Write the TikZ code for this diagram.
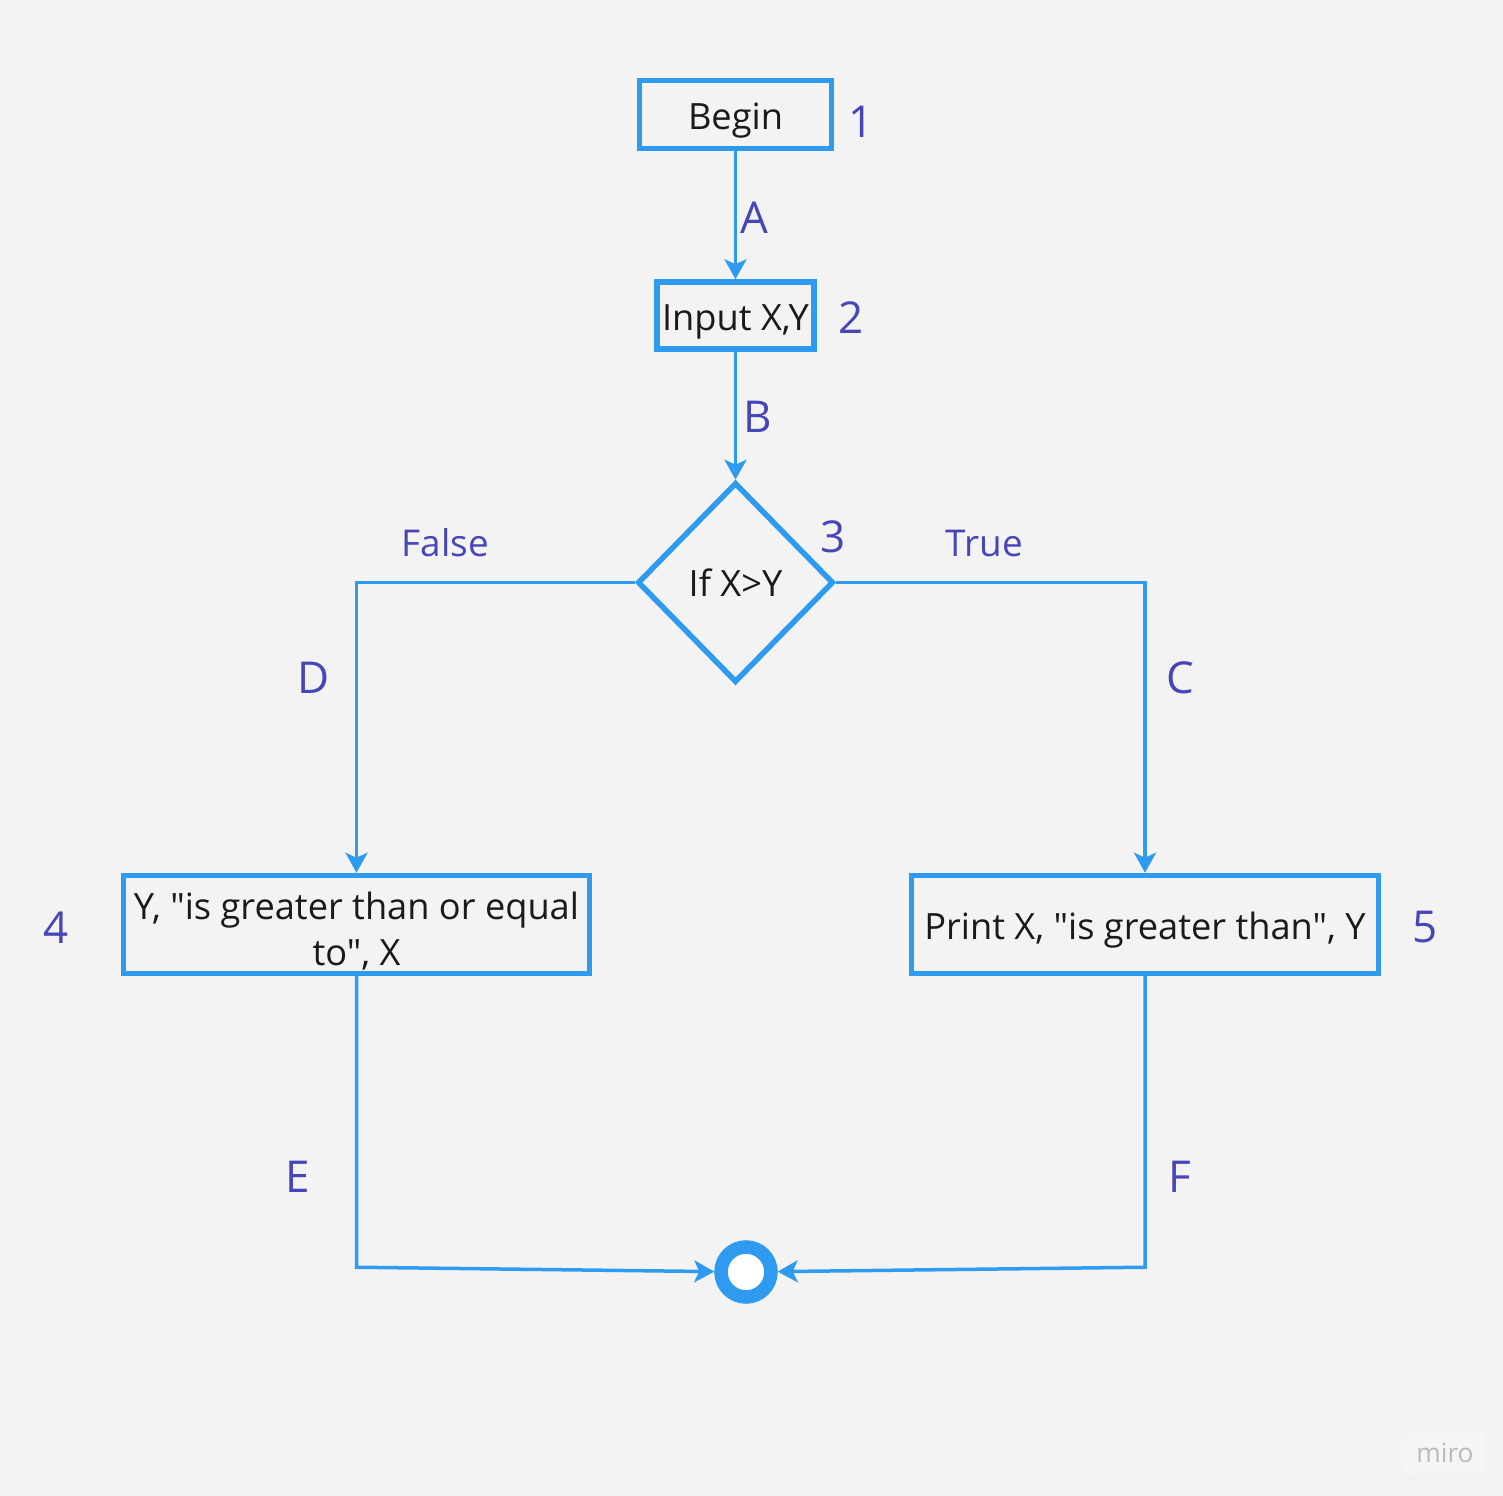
\documentclass[tikz,border=0pt]{standalone}
\usepackage{fontspec}
\setmainfont{Open Sans}[Ligatures=TeXOff]
\usetikzlibrary{arrows.meta,positioning,shapes.geometric}

\definecolor{flowblue}{RGB}{46,155,240}
\definecolor{labblue}{RGB}{70,70,185}
\definecolor{canvas}{RGB}{243,243,243}
\definecolor{ink}{RGB}{26,26,26}

\begin{document}
\begin{tikzpicture}[>={Stealth[length=0.2cm,width=0.22cm,inset=0.05cm]},
    box/.style={draw=flowblue,line width=0.055cm,text=ink,inner sep=0.05cm,
                align=center,text height=0.34cm,text depth=0.04cm,
                font=\fontsize{10.3}{13.1}\selectfont},
    decision/.style={diamond,draw=flowblue,line width=0.055cm,text=ink,inner sep=0,
                minimum width=1.96cm,minimum height=2cm,font=\fontsize{10.3}{13.1}\selectfont},
    link/.style={->,draw=flowblue,line width=0.035cm},
    lab/.style={text=labblue,inner sep=0,font=\fontsize{12.5}{15}\selectfont},
    branch/.style={text=labblue,inner sep=0,font=\fontsize{10.5}{13}\selectfont}]

  \fill[canvas] (0,0) rectangle (15.03,-14.96);
  \useasboundingbox (0,0) rectangle (15.03,-14.96);

  \node[box,minimum width=1.92cm,minimum height=0.68cm] (begin) at (7.355,-1.145) {Begin};
  \node[box,minimum width=1.55cm,minimum height=0.67cm,below=1.28cm of begin] (input) {Input X,Y};
  \node[decision,below=1.28cm of input] (cond) {If X>Y};
  \node[box,minimum width=4.66cm,minimum height=0.98cm,inner ysep=0.03cm,
        text height=0.85cm,text depth=0.02cm]
       (ybox) at (3.565,-9.245) {Y, "is greater than or equal\\to", X};
  \node[box,minimum width=4.67cm,minimum height=0.98cm] (pbox) at (11.45,-9.245)
       {Print X, "is greater than", Y};
  \node[circle,draw=flowblue,line width=0.135cm,fill=white,minimum size=0.5cm,
        inner sep=0] (stop) at (7.46,-12.72) {};

  % step numbers
  \node[lab,right=0.14cm of begin,yshift=-0.07cm] (n1) {1};
  \node[lab,right=0.21cm of input,yshift=-0.02cm] (n2) {2};
  \node[lab,right=0.34cm of cond.north east,yshift=-0.06cm] (n3) {3};
  \node[lab,left=0.51cm of ybox,yshift=-0.03cm] (n4) {4};
  \node[lab,right=0.31cm of pbox,yshift=-0.03cm] (n5) {5};

  \coordinate (fturn) at (cond.west -| ybox.north);
  \coordinate (tturn) at (cond.east -| pbox.north);
  \coordinate (eturn) at ([yshift=-2.91cm]ybox.south);
  \coordinate (fdrop) at ([yshift=-2.91cm]pbox.south);

  \draw[link] (begin.south) -- node[lab,right=0.03cm,pos=0.52] (la) {A} (input.north);
  \draw[link] (input.south) -- node[lab,right=0.06cm,pos=0.51] (lb) {B} (cond.north);
  \draw[link] (cond.west) -- node[branch,above=0.24cm,pos=0.68] (lfalse) {False} (fturn)
                          -- node[lab,left=0.25cm,pos=0.33] (ld) {D} (ybox.north);
  \draw[link] (cond.east) -- node[branch,above=0.24cm,pos=0.48] (ltrue) {True} (tturn)
                          -- node[lab,right=0.2cm,pos=0.33] (lc) {C} (pbox.north);
  \draw[link] (ybox.south) -- node[lab,left=0.45cm,pos=0.69] (le) {E} (eturn) -- (stop);
  \draw[link] (pbox.south) -- node[lab,right=0.22cm,pos=0.69] (lf) {F} (fdrop) -- (stop);

  \node[fill=white,fill opacity=0.18,text opacity=1,text=black!27,rounded corners=2pt,
        minimum width=0.7cm,minimum height=0.37cm,
        font=\fontsize{7.5}{9}\selectfont] (miro) at (14.45,-14.53) {miro};
\end{tikzpicture}
\end{document}
